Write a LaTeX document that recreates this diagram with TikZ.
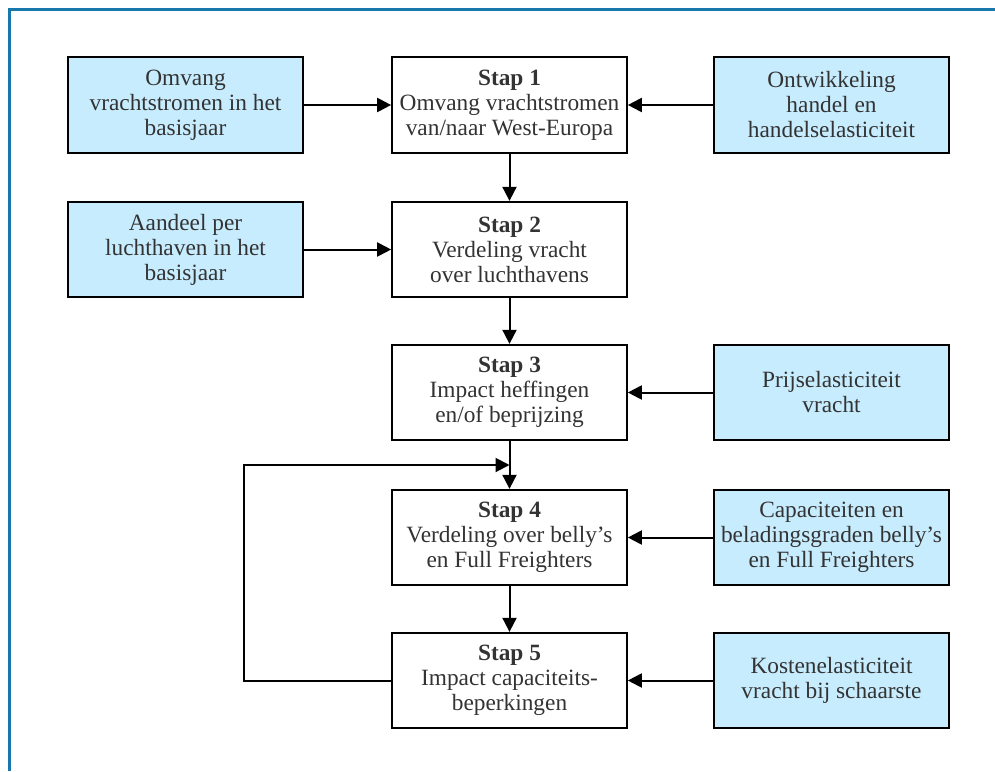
\documentclass[tikz,border=0pt]{standalone}
\usepackage{fontspec}
\setmainfont{Liberation Serif}
\usetikzlibrary{arrows.meta,calc}
\definecolor{framecol}{RGB}{24,120,172}
\definecolor{inputfill}{RGB}{199,236,254}
\definecolor{txt}{RGB}{51,51,51}
\begin{document}
\begin{tikzpicture}[x=0.75pt,y=-0.75pt,
  box/.style={draw=black,line width=1.5pt,minimum width=176pt,minimum height=71.5pt,
    inner sep=0pt,align=center,text=txt,font=\fontsize{17.5}{18.75}\selectfont},
  stepbox/.style={box,fill=white},
  inputbox/.style={box,fill=inputfill},
  flow/.style={line width=1.5pt,-{Triangle[length=10.5pt,width=10.5pt]}}]
\useasboundingbox (0,0) rectangle (995,771);
% outer frame (top and left edges)
\draw[framecol,line width=2.2pt] (9.5,771) -- (9.5,9.5) -- (995,9.5);

% step boxes
\node[stepbox] (s1) at (509.5,105) {\textbf{Stap 1}\\Omvang vrachtstromen\\van/naar West-Europa};
\node[stepbox] (s2) at (509.5,249.5) {\textbf{Stap 2}\\Verdeling vracht\\over luchthavens};
\node[stepbox] (s3) at (509.5,392.5) {\textbf{Stap 3}\\Impact heffingen\\en/of beprijzing};
\node[stepbox] (s4) at (509.5,537.5) {\textbf{Stap 4}\\Verdeling over belly’s\\en Full Freighters};
\node[stepbox] (s5) at (509.5,680.5) {\textbf{Stap 5}\\Impact capaciteits-\\beperkingen};

% input boxes
\node[inputbox] (l1) at (185.5,105) {Omvang\\vrachtstromen in het\\basisjaar};
\node[inputbox] (l2) at (185.5,249.5) {Aandeel per\\luchthaven in het\\basisjaar};
\node[inputbox] (r1) at (831.5,105) {Ontwikkeling\\handel en\\handelselasticiteit};
\node[inputbox] (r3) at (831.5,392.5) {Prijselasticiteit\\vracht};
\node[inputbox] (r4) at (831.5,537.5) {Capaciteiten en\\beladingsgraden belly’s\\en Full Freighters};
\node[inputbox] (r5) at (831.5,680.5) {Kostenelasticiteit\\vracht bij schaarste};

% connectors
\draw[flow] (l1) -- (s1);
\draw[flow] (r1) -- (s1);
\draw[flow] (s1) -- (s2);
\draw[flow] (l2) -- (s2);
\draw[flow] (s2) -- (s3);
\draw[flow] (r3) -- (s3);
\draw[flow] (s3) -- (s4);
\draw[flow] (r4) -- (s4);
\draw[flow] (s4) -- (s5);
\draw[flow] (r5) -- (s5);

% feedback loop from step 5 back above step 4
\coordinate (fb) at ($(s3.south)!0.5!(s4.north)$);
\draw[flow] (s5.west) -- ++(-147,0) |- (fb);
\end{tikzpicture}
\end{document}
